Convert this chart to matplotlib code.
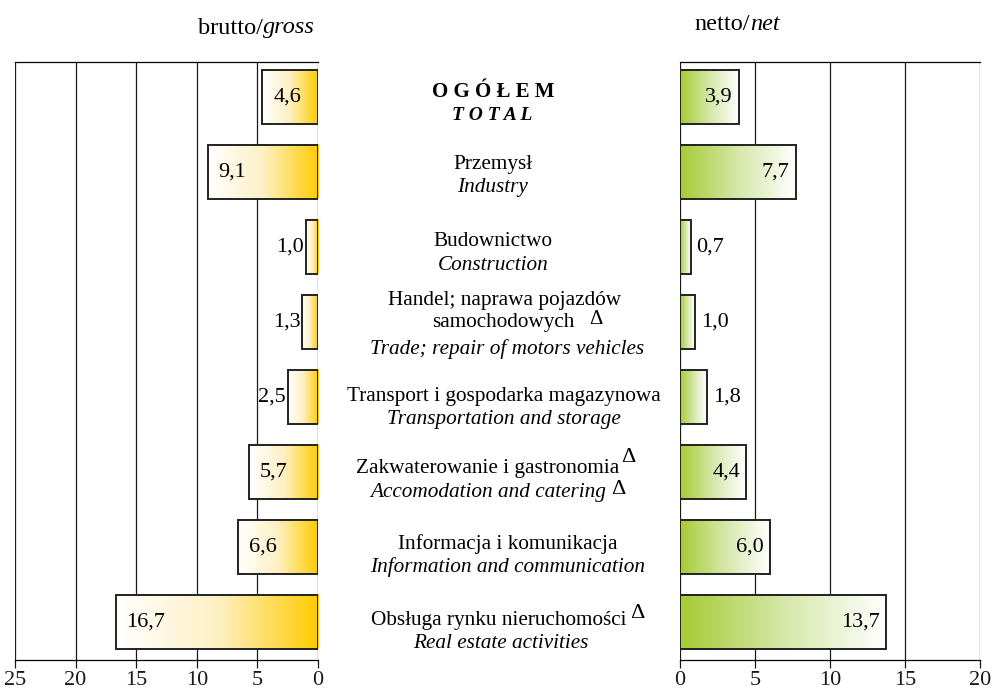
import numpy as np
import matplotlib
matplotlib.use("Agg")
import matplotlib.pyplot as plt
from matplotlib.colors import LinearSegmentedColormap
from matplotlib.transforms import offset_copy

plt.rcParams['font.family'] = ['Liberation Serif', 'DejaVu Serif']

categories_pl = ["O G Ó Ł E M", "Przemysł", "Budownictwo",
                 "Handel; naprawa pojazdów\nsamochodowych", "Transport i gospodarka magazynowa",
                 "Zakwaterowanie i gastronomia", "Informacja i komunikacja",
                 "Obsługa rynku nieruchomości"]
categories_en = ["T O T A L", "Industry", "Construction", "Trade; repair of motors vehicles",
                 "Transportation and storage", "Accomodation and catering",
                 "Information and communication", "Real estate activities"]
gross = [4.6, 9.1, 1.0, 1.3, 2.5, 5.7, 6.6, 16.7]
net = [3.9, 7.7, 0.7, 1.0, 1.8, 4.4, 6.0, 13.7]
left_ticks = [25, 20, 15, 10, 5, 0]
right_ticks = [0, 5, 10, 15, 20]

W, H = 993, 689
fig = plt.figure(figsize=(W / 100, H / 100), dpi=100)

def fx(px): return px / W
def fy(py): return 1 - py / H

axL = fig.add_axes([fx(15), fy(660), fx(318) - fx(15), fy(62) - fy(660)])
axR = fig.add_axes([fx(680), fy(660), fx(980) - fx(680), fy(62) - fy(660)])

gold = LinearSegmentedColormap.from_list("g", ["#ffffff", "#fdf0c4", "#ffcc00"])
green = LinearSegmentedColormap.from_list("r", ["#a5cb35", "#d6e7a8", "#ffffff"])
grad = np.linspace(0, 1, 256).reshape(1, -1)
bh = 0.72
n = len(gross)
vfs = 16
fs = 15.3

for ax, ticks, lim in [(axL, left_ticks, (25, 0)), (axR, right_ticks, (0, 20))]:
    for t in ticks:
        ax.axvline(t, color="#1a1a1a", lw=0.9, zorder=0)
    ax.set_xlim(*lim)
    ax.set_ylim(n - 0.5, -0.47)
    ax.set_xticks(ticks)
    ax.set_xticklabels([str(t) for t in ticks], fontsize=16)
    ax.set_yticks([])
    for s in ["left", "right"]:
        ax.spines[s].set_visible(False)
    ax.spines["top"].set_linewidth(0.9)
    ax.spines["bottom"].set_linewidth(0.9)
    ax.tick_params(axis="x", direction="out", length=6, width=0.9, pad=2, colors="#1a1a1a")
    ax.set_facecolor("none")

for i, v in enumerate(gross):
    axL.imshow(grad, cmap=gold, extent=(v, 0, i + bh / 2, i - bh / 2), aspect="auto", zorder=2)
    axL.barh(i, v, height=bh, facecolor="none", edgecolor="#222222", lw=1.4, zorder=3)
    lab = f"{v:.1f}".replace(".", ",")
    if v >= 4.5:
        tr = offset_copy(axL.transData, fig=fig, x=11, y=0, units="dots")
        axL.text(v, i, lab, transform=tr, ha="left", va="center", fontsize=vfs, zorder=4)
    else:
        tr = offset_copy(axL.transData, fig=fig, x=-2, y=0, units="dots")
        axL.text(v, i, lab, transform=tr, ha="right", va="center", fontsize=vfs, zorder=4, clip_on=False)

for i, v in enumerate(net):
    axR.imshow(grad, cmap=green, extent=(0, v, i + bh / 2, i - bh / 2), aspect="auto", zorder=2)
    axR.barh(i, v, height=bh, facecolor="none", edgecolor="#222222", lw=1.4, zorder=3)
    lab = f"{v:.1f}".replace(".", ",")
    if v >= 3.5:
        tr = offset_copy(axR.transData, fig=fig, x=-6, y=0, units="dots")
        axR.text(v, i, lab, transform=tr, ha="right", va="center", fontsize=vfs, zorder=4)
    else:
        tr = offset_copy(axR.transData, fig=fig, x=6, y=0, units="dots")
        axR.text(v, i, lab, transform=tr, ha="left", va="center", fontsize=vfs, zorder=4)

axL.set_xlim(25, 0)
axL.set_ylim(n - 0.5, -0.47)
axR.set_xlim(0, 20)
axR.set_ylim(n - 0.5, -0.47)

# label line positions (pixels): (x centre, y centre)
pl_pos = [(493, 92), (493, 164), (493, 242), (505, 300), (504, 397), (488, 469), (508, 544), (499, 620)]
en_pos = [(492, 115), (492, 188), (493, 265), (507, 349), (504, 420), (488, 492), (508, 567), (501, 644)]

for i in range(n):
    pl = categories_pl[i]
    en = categories_en[i]
    if i == 0:
        fig.text(fx(pl_pos[i][0]), fy(pl_pos[i][1]), pl, ha="center", va="center", fontsize=15,
                 fontweight="bold")
        fig.text(fx(en_pos[i][0]), fy(en_pos[i][1]), en, ha="center", va="center", fontsize=14,
                 fontweight="bold", style="italic")
    elif i == 3:
        l1, l2 = pl.split("\n")
        fig.text(fx(pl_pos[i][0]), fy(pl_pos[i][1]), l1, ha="center", va="center", fontsize=fs)
        fig.text(fx(503), fy(322), l2, ha="center", va="center", fontsize=fs)
        fig.text(fx(en_pos[i][0]), fy(en_pos[i][1]), en, ha="center", va="center",
                 fontsize=fs, style="italic")
    else:
        fig.text(fx(pl_pos[i][0]), fy(pl_pos[i][1]), pl, ha="center", va="center", fontsize=fs)
        fig.text(fx(en_pos[i][0]), fy(en_pos[i][1]), en, ha="center", va="center", fontsize=fs,
                 style="italic")

# Δ marks
for (px, py, s) in [(596, 319, 15), (628, 458, 16), (618, 490, 16), (637, 613, 16)]:
    fig.text(fx(px), fy(py), "Δ", ha="center", va="center", fontsize=s)

fig.text(fx(263), fy(28), "brutto/", ha="right", va="center", fontsize=17.5)
fig.text(fx(263), fy(28), "gross", ha="left", va="center", fontsize=17.5, style="italic")
fig.text(fx(750), fy(25), "netto/", ha="right", va="center", fontsize=17.5)
fig.text(fx(750), fy(25), "net", ha="left", va="center", fontsize=17.5, style="italic")

fig.savefig("out.png", dpi=100)
